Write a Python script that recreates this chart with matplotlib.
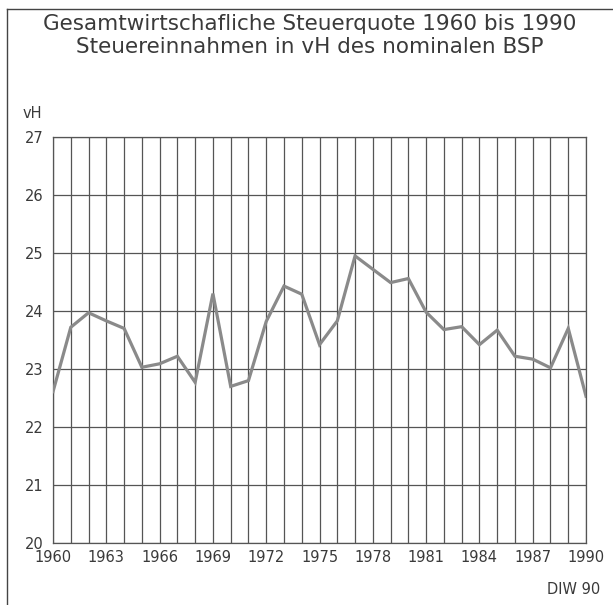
import matplotlib.pyplot as plt
from matplotlib.lines import Line2D

years = list(range(1960, 1991))
quote = [22.61, 23.72, 23.97, 23.83, 23.70, 23.03, 23.09, 23.22, 22.77, 24.30,
         22.70, 22.80, 23.82, 24.43, 24.29, 23.42, 23.83, 24.95, 24.72, 24.49,
         24.56, 23.98, 23.68, 23.73, 23.42, 23.67, 23.22, 23.17, 23.02, 23.70,
         22.53]
xlabels = list(range(1960, 1991, 3))
ylabels = list(range(20, 28))

txt = '#3a3a3a'

fig = plt.figure(figsize=(6.13, 6.05), dpi=100)
ax = fig.add_axes([0.0865, 0.1025, 0.8695, 0.671])

ax.plot(years, quote, color='#8a8a8a', lw=2.3, solid_joinstyle='miter', zorder=3)

ax.set_xlim(1960, 1990)
ax.set_ylim(20, 27)
ax.set_xticks(years)
ax.set_xticklabels([str(y) if y in xlabels else '' for y in years])
ax.set_yticks(ylabels)
ax.grid(True, color='#555555', lw=0.9)
ax.tick_params(length=0, labelsize=10.5, labelcolor=txt)
ax.tick_params(axis='y', pad=7)
ax.tick_params(axis='x', pad=5)
for s in ax.spines.values():
    s.set_color('#555555')
    s.set_linewidth(0.9)

fig.text(0.505, 0.961, 'Gesamtwirtschafliche Steuerquote 1960 bis 1990',
         ha='center', va='center', fontsize=15.5, color=txt)
fig.text(0.505, 0.923, 'Steuereinnahmen in vH des nominalen BSP',
         ha='center', va='center', fontsize=15.5, color=txt)
fig.text(0.036, 0.813, 'vH', ha='left', va='center', fontsize=10.5, color=txt)
fig.text(0.98, 0.013, 'DIW 90', ha='right', va='bottom', fontsize=10.5, color=txt)

# outer frame (left and top edges)
fig.add_artist(Line2D([0.012, 0.012], [0, 0.985], transform=fig.transFigure,
                      color='#444444', lw=1))
fig.add_artist(Line2D([0.012, 1], [0.985, 0.985], transform=fig.transFigure,
                      color='#444444', lw=1))

fig.savefig('out.png', dpi=100)
